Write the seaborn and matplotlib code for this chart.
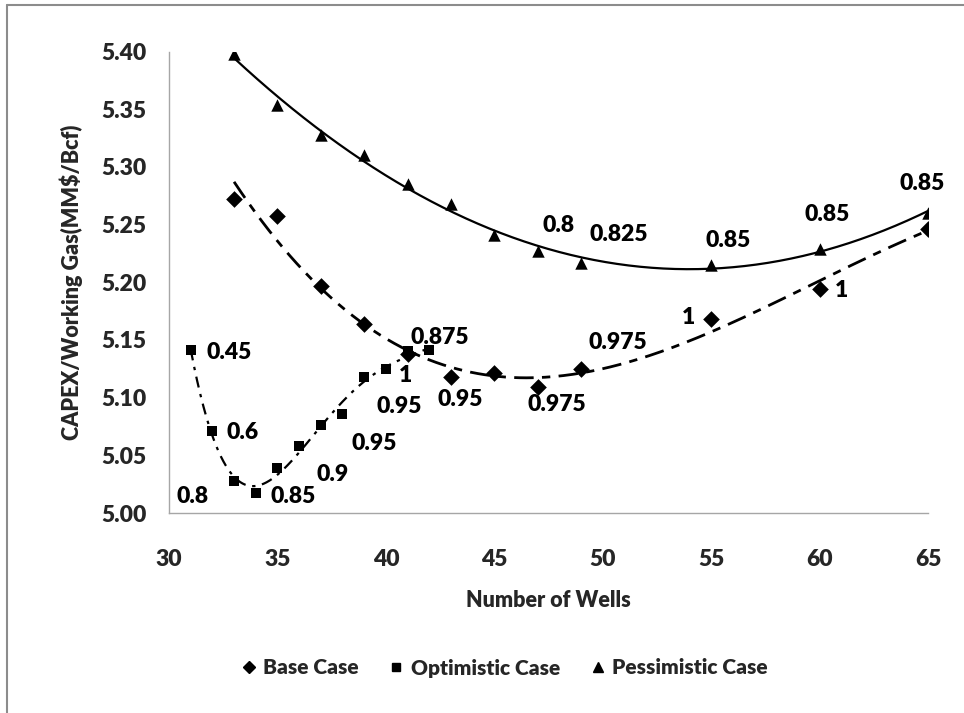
import numpy as np
import pandas as pd
import matplotlib
matplotlib.use("Agg")
import matplotlib.pyplot as plt
from matplotlib.lines import Line2D
import seaborn as sns

# Cost per unit of working gas versus number of wells, three scenarios
base_wells = [33, 35, 37, 39, 41, 43, 45, 47, 49, 55, 60, 65]
base_cost = [5.272, 5.257, 5.197, 5.164, 5.138, 5.118, 5.121, 5.109, 5.125, 5.168, 5.194, 5.246]

opt_wells = [31, 32, 33, 34, 35, 36, 37, 38, 39, 40, 41, 42]
opt_cost = [5.141, 5.071, 5.028, 5.017, 5.039, 5.058, 5.076, 5.086, 5.118, 5.125, 5.140, 5.141]

pes_wells = [33, 35, 37, 39, 41, 43, 45, 47, 49, 55, 60, 65]
pes_cost = [5.398, 5.354, 5.328, 5.310, 5.285, 5.268, 5.241, 5.227, 5.217, 5.215, 5.229, 5.260]

# Point annotations: index of the annotated point and its text
opt_label_idx = [0, 1, 2, 3, 4, 6, 8, 9, 11]
opt_label_txt = ["0.45", "0.6", "0.8", "0.85", "0.9", "0.95", "0.95", "1", "0.875"]
base_label_idx = [5, 7, 8, 9, 10]
base_label_txt = ["0.95", "0.975", "0.975", "1", "1"]
pes_label_idx = [7, 8, 9, 10, 11]
pes_label_txt = ["0.8", "0.825", "0.85", "0.85", "0.85"]

x_ticks = [30, 35, 40, 45, 50, 55, 60, 65]
y_ticks = [5.00, 5.05, 5.10, 5.15, 5.20, 5.25, 5.30, 5.35, 5.40]

# label offsets in pixels (dx, dy upward)
opt_offsets = [(38, -2), (30, -1), (-41, -16), (37, -3), (55, -6), (53, -18), (35, -30), (20, -7), (11, 13)]
base_offsets = [(9, -23), (19, -17), (37, 26), (-23, 2), (22, -1)]
pes_offsets = [(21, 26), (38, 28), (17, 24), (8, 34), (-6, 30)]

sns.set_style("white")
plt.rcParams["font.family"] = ["Lato", "DejaVu Sans"]
plt.rcParams["font.weight"] = "heavy"

FS = 16.5
LFS = 15.5
W = "heavy"

fig = plt.figure(figsize=(9.64, 7.13), dpi=100)
ax = fig.add_axes([169 / 964, 1 - 513 / 713, (928 - 169) / 964, (513 - 51.5) / 713])

series = [
    ("Base Case", base_wells, base_cost, "D", 72, 3, dict(ls=(0, (7, 3, 3, 3)), lw=2.0)),
    ("Optimistic Case", opt_wells, opt_cost, "s", 46, 4, dict(ls=(0, (5, 3, 1.5, 3)), lw=1.6)),
    ("Pessimistic Case", pes_wells, pes_cost, "^", 80, 2, dict(ls="-", lw=1.6)),
]

handles = []
for name, xs, ys, mk, size, deg, lstyle in series:
    df = pd.DataFrame({"wells": xs, "cost": ys})
    # polynomial trendline fitted to the series
    coef = np.polyfit(df["wells"], df["cost"], deg)
    xx = np.linspace(min(xs), max(xs), 300)
    ax.plot(xx, np.polyval(coef, xx), color="black", zorder=2, **lstyle)
    sns.scatterplot(data=df, x="wells", y="cost", marker=mk, s=size, color="black",
                    linewidth=0, ax=ax, zorder=3, legend=False)
    handles.append(Line2D([], [], marker=mk, color="black", ls="none",
                          markersize=6.5 if mk != "s" else 6, label=name))

def annotate(xs, ys, idx, txt, offs):
    for i, t, (dx, dy) in zip(idx, txt, offs):
        ax.annotate(t, xy=(xs[i], ys[i]), xytext=(dx, dy), textcoords="offset pixels",
                    ha="center", va="center", fontsize=FS, fontweight=W, color="black")

annotate(opt_wells, opt_cost, opt_label_idx, opt_label_txt, opt_offsets)
annotate(base_wells, base_cost, base_label_idx, base_label_txt, base_offsets)
annotate(pes_wells, pes_cost, pes_label_idx, pes_label_txt, pes_offsets)

ax.set_xlim(30, 65)
ax.set_ylim(5.0, 5.4)
ax.set_xticks(x_ticks)
ax.set_yticks(y_ticks)
ax.set_yticklabels([f"{v:.2f}" for v in y_ticks])
ax.tick_params(axis="both", length=0, labelsize=FS)
ax.tick_params(axis="y", pad=16)
ax.tick_params(axis="x", pad=26)
for lab in ax.get_xticklabels() + ax.get_yticklabels():
    lab.set_fontweight(W)

for side in ["top", "right"]:
    ax.spines[side].set_visible(False)
for side in ["left", "bottom"]:
    ax.spines[side].set_color("#a6a6a6")
    ax.spines[side].set_linewidth(1.0)

ax.set_xlabel("Number of Wells", fontsize=LFS, fontweight=W, labelpad=14)
ax.set_ylabel("CAPEX/Working Gas(MM$/Bcf)", fontsize=LFS, fontweight=W, labelpad=13)

fig.legend(handles=handles, loc="center", bbox_to_anchor=(0.524, 1 - 668 / 713), ncol=3,
           frameon=False, handlelength=0.6, handletextpad=0.4,
           columnspacing=1.5, prop={"weight": W, "size": 15})

# chart frame
fig.add_artist(Line2D([7 / 964, 7 / 964], [0, 1 - 5 / 713], color="#8c8c8c", lw=1.5))
fig.add_artist(Line2D([7 / 964, 1], [1 - 5 / 713, 1 - 5 / 713], color="#8c8c8c", lw=1.5))

fig.savefig("out.png", dpi=100, facecolor="white")
